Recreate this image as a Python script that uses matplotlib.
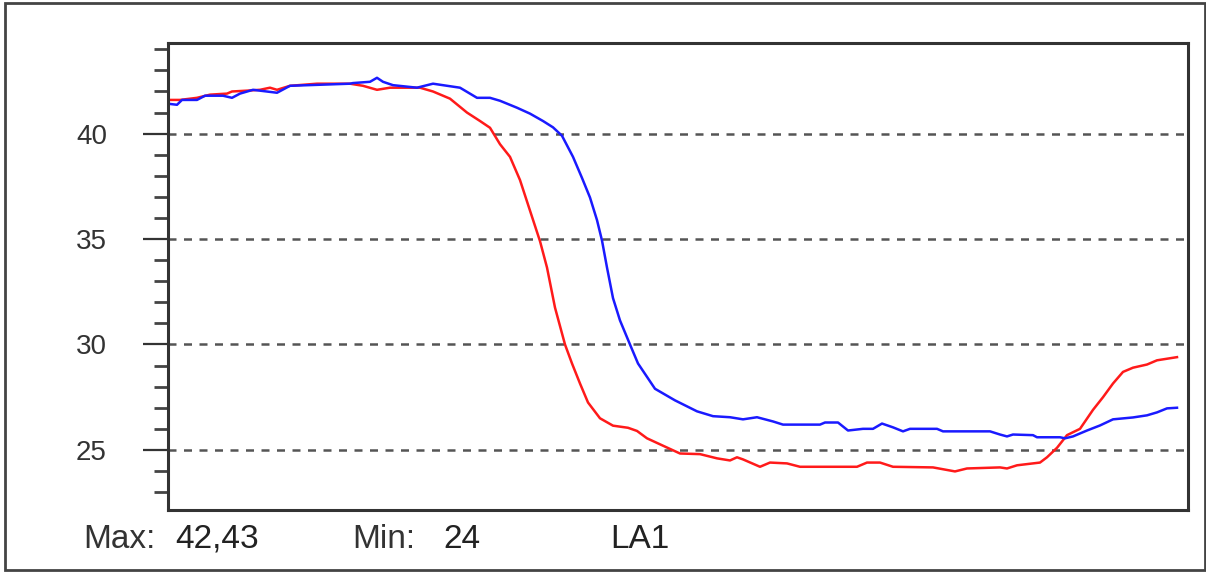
import matplotlib
matplotlib.use("Agg")
import matplotlib.pyplot as plt
from matplotlib.patches import Rectangle
from matplotlib.ticker import MultipleLocator

plt.rcParams['font.family'] = ['Liberation Sans', 'DejaVu Sans']

# time axis (arbitrary units)
red_t = [0.0, 1.2, 2.9, 4.2, 5.9, 6.4, 7.9, 9.2, 10.2, 10.9, 12.2, 14.9, 18.2, 19.5,
         20.9, 22.2, 25.2, 26.5, 28.2, 29.9, 31.2, 32.2, 33.2, 34.2, 35.2, 36.2, 37.2,
         37.9, 38.7, 39.7, 40.4, 41.2, 42.0, 43.2, 44.5, 46.0, 46.9, 47.9, 49.5, 51.2,
         53.2, 54.9, 56.2, 56.9, 57.5, 59.2, 60.2, 61.9, 63.2, 68.9, 69.9, 71.2, 72.5,
         76.5, 78.7, 79.9, 83.2, 83.9, 84.9, 87.2, 87.9, 88.9, 89.9, 91.2, 92.5, 93.5,
         94.5, 95.5, 96.5, 97.9, 98.9, 100.9]
red_v = [41.6, 41.6, 41.7, 41.85, 41.9, 42.0, 42.04, 42.08, 42.18, 42.08, 42.27, 42.37,
         42.37, 42.27, 42.08, 42.18, 42.18, 42.0, 41.66, 41.0, 40.6, 40.28, 39.5, 38.9,
         37.8, 36.35, 34.9, 33.65, 31.75, 30.0, 29.1, 28.15, 27.25, 26.5, 26.15, 26.05,
         25.9, 25.55, 25.2, 24.83, 24.8, 24.6, 24.5, 24.65, 24.55, 24.2, 24.4, 24.36,
         24.2, 24.2, 24.4, 24.4, 24.2, 24.17, 23.98, 24.12, 24.17, 24.12, 24.27, 24.4,
         24.65, 25.1, 25.7, 26.0, 26.9, 27.5, 28.15, 28.7, 28.9, 29.05, 29.25, 29.4]

blue_t = [0.0, 0.9, 1.4, 2.9, 3.7, 5.5, 6.4, 7.2, 8.5, 10.9, 12.2, 18.2, 18.5, 20.2,
          20.9, 21.5, 22.5, 24.9, 26.5, 28.2, 29.2, 30.9, 32.2, 33.2, 34.9, 36.2, 37.5,
          38.5, 39.4, 40.5, 41.4, 42.2, 42.9, 43.4, 43.9, 44.5, 45.2, 46.2, 47.0, 48.7,
          50.7, 52.9, 54.5, 56.2, 57.5, 58.9, 60.5, 61.5, 65.2, 65.7, 67.0, 68.0, 69.5,
          70.5, 71.4, 72.5, 73.5, 74.2, 76.9, 77.5, 82.2, 83.2, 83.9, 84.5, 86.5, 86.9,
          89.2, 89.7, 90.5, 91.9, 93.2, 94.5, 96.5, 97.9, 98.9, 99.9, 100.9]
blue_v = [41.42, 41.37, 41.6, 41.6, 41.8, 41.8, 41.7, 41.9, 42.08, 41.94, 42.27, 42.37,
          42.4, 42.46, 42.65, 42.46, 42.3, 42.18, 42.37, 42.25, 42.18, 41.7, 41.7, 41.56,
          41.23, 40.95, 40.6, 40.3, 39.9, 38.9, 37.9, 36.97, 35.9, 34.93, 33.65, 32.2,
          31.14, 30.0, 29.1, 27.9, 27.35, 26.83, 26.6, 26.55, 26.45, 26.55, 26.35, 26.2,
          26.2, 26.3, 26.3, 25.92, 26.0, 26.0, 26.25, 26.07, 25.88, 26.0, 26.0, 25.88,
          25.88, 25.73, 25.64, 25.73, 25.7, 25.6, 25.6, 25.55, 25.64, 25.92, 26.16, 26.45,
          26.54, 26.64, 26.78, 26.97, 27.0]

y_major = [25, 30, 35, 40]
max_txt = "42,43"
min_txt = "24"
channel = "LA1"

fig = plt.figure(figsize=(12.06, 5.73), dpi=100)
ax = fig.add_axes([168 / 1206, 1 - 510 / 573, 1020 / 1206, 467 / 573])

ax.plot(red_t, red_v, color='#ff1a1a', lw=1.8)
ax.plot(blue_t, blue_v, color='#1a1aff', lw=1.8)

ax.set_xlim(0, 102)
ax.set_ylim(22.15, 44.3)
ax.set_xticks([])
ax.set_yticks(y_major)
ax.yaxis.set_minor_locator(MultipleLocator(1))
ax.tick_params(axis='y', which='major', length=18, width=1.6, color='#333333',
               labelsize=20, labelcolor='#333333', pad=26)
ax.tick_params(axis='y', which='minor', length=10, width=2.0, color='#444444')
ax.grid(axis='y', which='major', linestyle=(0, (3.2, 3.0)), color='#555555', lw=1.8)

for s in ax.spines.values():
    s.set_linewidth(2.2)
    s.set_color('#333333')

# bottom info line
fs = 24
base = 1 - 548 / 573
fig.text(83 / 1206, base, "Max:", fontsize=fs, color='#333333', va='baseline')
fig.text(175 / 1206, base, max_txt, fontsize=fs, color='#222222', va='baseline')
fig.text(352 / 1206, base, "Min:", fontsize=fs, color='#333333', va='baseline')
fig.text(443 / 1206, base, min_txt, fontsize=fs, color='#222222', va='baseline')
fig.text(610 / 1206, base, channel, fontsize=fs, color='#222222', va='baseline')

# outer frame
fig.patches.append(Rectangle((4.5 / 1206, 3 / 573), 1200 / 1206, 567 / 573,
                             transform=fig.transFigure, fill=False,
                             edgecolor='#444444', lw=2.0))

fig.savefig("out.png", dpi=100)
